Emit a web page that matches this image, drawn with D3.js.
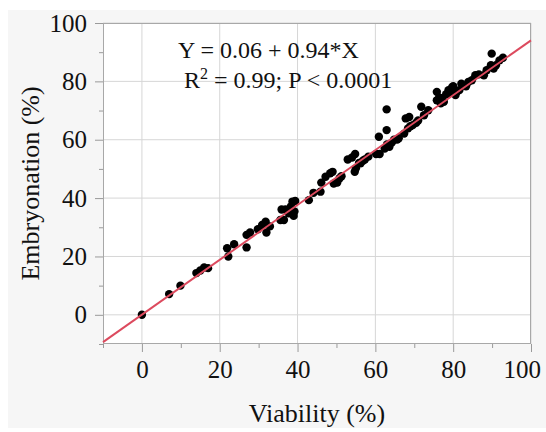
<!DOCTYPE html>
<html>
<head>
<meta charset="utf-8">
<script src="https://cdn.jsdelivr.net/npm/d3@7"></script>
<style>
  body { margin: 0; background: #fff; }
  svg { display: block; font-family: "Liberation Serif", "Times New Roman", serif; }
  .grid line { stroke: #d6d6d6; stroke-width: 1; }
  .axis path { display: none; }
  .axis line { stroke: #9a9a9a; }
  .axis text { fill: #111; font-size: 25px; font-family: "Liberation Serif", serif; }
</style>
</head>
<body>
<svg width="546" height="432"></svg>
<script>
// viability (%)
var viability = [0, 7, 9.9, 14, 15, 16, 17, 21.9, 22.2, 23.7, 26.9, 26.9, 27.8,
    29.8, 30.9, 31.8, 32, 32.9, 35.6, 35.9, 36.5, 36.9, 37.7, 38.3, 38.7, 39, 39.2, 39.4,
    42.9, 44.1, 45.9, 46.1, 47.2, 48.4, 49, 49.3, 50.2, 50.8, 51.3,
    52.9, 54, 54.8, 54.7, 55, 56.2, 57.3, 58.2, 55.8, 56.8,
    60.2, 61.1, 60.9, 62.4, 62.9, 62.9, 63.6, 64.2, 65.6, 66, 63, 64.8,
    67.4, 67.8, 68.7, 68.4, 69.6, 70.5, 71.8, 72.5, 73.6, 69, 71,
    75.8, 75.8, 76.4, 77.6, 78.2, 78.8, 79.7, 80, 80.6, 81.6, 82.1, 83.3, 83.9, 84.8,
    85.7, 86.6, 87.9, 88.6, 89.7, 89.9, 90.4, 91, 91.9, 92.8, 77, 79, 81, 76.8];
// embryonation (%) for the same points
var embryonation = [0, 7.1, 10, 14.3, 15.2, 16.2, 16, 22.8, 20, 24.2, 23.1, 27.4, 28.2,
    29.3, 30.8, 31.9, 28.2, 30.3, 32.5, 36.1, 32.5, 36.1, 34.8, 37.1, 38.8, 33.9, 35.4, 39,
    39.3, 41.8, 42.2, 45.3, 47.3, 48.5, 49, 45, 45.3, 46.8, 47.5,
    53.2, 53.9, 55.1, 49, 50.2, 51.9, 53.2, 54.2, 52, 52.8,
    55.1, 55.1, 61, 57, 63.3, 70.4, 57.6, 59, 60.1, 60.5, 58.4, 60,
    62.1, 67.3, 67.8, 63.9, 65, 65.8, 71.3, 68.4, 70.1, 64.6, 66.6,
    76.4, 73.5, 74.5, 73, 75.6, 77, 77.9, 78.3, 75.3, 77, 79.2, 78.3, 79.8, 80.4,
    82.1, 82.4, 82.1, 83.8, 85.5, 89.5, 84.4, 85.5, 87.2, 88.1, 74.2, 76, 76.5, 72.5];

var fitIntercept = 0.06,
    fitSlope = 0.94;
var equationText = "Y = 0.06 + 0.94*X";
var xTicks = [0, 20, 40, 60, 80, 100],
    yTicks = [0, 20, 40, 60, 80, 100],
    minorTicks = [-10, 10, 30, 50, 70, 90];

var svg = d3.select("svg"),
    width = +svg.attr("width"),
    height = +svg.attr("height");

var plotLeft = 103, plotRight = 531, plotTop = 23, plotBottom = 344;

var x = d3.scaleLinear().domain([-10, 100]).range([plotLeft, plotRight]);
var y = d3.scaleLinear().domain([-10, 100]).range([plotBottom, plotTop]);

// grey page background
svg.append("rect")
    .attr("x", 8).attr("y", 10)
    .attr("width", width - 8).attr("height", 418)
    .attr("fill", "#f6f6f6");

// plot area
svg.append("rect")
    .attr("x", plotLeft).attr("y", plotTop)
    .attr("width", plotRight - plotLeft).attr("height", plotBottom - plotTop)
    .attr("fill", "#fff");

// gridlines
svg.append("g").attr("class", "grid")
    .selectAll("line").data(xTicks).enter().append("line")
    .attr("x1", d => x(d)).attr("x2", d => x(d))
    .attr("y1", plotTop).attr("y2", plotBottom);
svg.append("g").attr("class", "grid")
    .selectAll("line").data(yTicks).enter().append("line")
    .attr("y1", d => y(d)).attr("y2", d => y(d))
    .attr("x1", plotLeft).attr("x2", plotRight);

// axes: major ticks with labels, minor ticks without
var xAxis = svg.append("g").attr("class", "axis")
    .attr("transform", "translate(0," + plotBottom + ")")
    .call(d3.axisBottom(x).tickValues(xTicks).tickSize(8).tickPadding(8).tickFormat(d3.format("d")));
svg.append("g").attr("class", "axis")
    .attr("transform", "translate(0," + plotBottom + ")")
    .call(d3.axisBottom(x).tickValues(minorTicks).tickSize(4).tickFormat(""));

// keep the last label inside the picture
xAxis.selectAll("text").each(function() {
    var b = this.getBoundingClientRect();
    var over = b.right - (width - 5);
    if (over > 0) d3.select(this).attr("dx", -over);
});

svg.append("g").attr("class", "axis")
    .attr("transform", "translate(" + plotLeft + ",0)")
    .call(d3.axisLeft(y).tickValues(yTicks).tickSize(8).tickPadding(8).tickFormat(d3.format("d")));
svg.append("g").attr("class", "axis")
    .attr("transform", "translate(" + plotLeft + ",0)")
    .call(d3.axisLeft(y).tickValues(minorTicks).tickSize(4).tickFormat(""));

// frame
svg.append("rect")
    .attr("x", plotLeft + 0.5).attr("y", plotTop + 0.5)
    .attr("width", plotRight - plotLeft - 1).attr("height", plotBottom - plotTop - 1)
    .attr("fill", "none")
    .attr("stroke", "#a8a8a8");

// points
svg.append("g").selectAll("circle")
    .data(viability.map((v, i) => [v, embryonation[i]]))
    .enter().append("circle")
    .attr("cx", d => x(d[0]))
    .attr("cy", d => y(d[1]))
    .attr("r", 4.2)
    .attr("fill", "#000");

// fitted line
var lineX = x.domain();
svg.append("line")
    .attr("x1", x(lineX[0])).attr("y1", y(fitIntercept + fitSlope * lineX[0]))
    .attr("x2", x(lineX[1])).attr("y2", y(fitIntercept + fitSlope * lineX[1]))
    .attr("stroke", "#dc4a5e")
    .attr("stroke-width", 2);

// equation
svg.append("text")
    .attr("x", 178).attr("y", 58)
    .attr("font-size", 24)
    .attr("fill", "#111")
    .text(equationText);

var r2 = svg.append("text")
    .attr("x", 184).attr("y", 88)
    .attr("font-size", 24)
    .attr("fill", "#111");
r2.append("tspan").text("R");
r2.append("tspan").attr("font-size", 16).attr("dy", -9).text("2");
r2.append("tspan").attr("dy", 9).text(" = 0.99; P < 0.0001");

// axis titles
svg.append("text")
    .attr("x", (plotLeft + plotRight) / 2).attr("y", 422)
    .attr("text-anchor", "middle")
    .attr("font-size", 26)
    .attr("fill", "#111")
    .text("Viability (%)");

svg.append("text")
    .attr("transform", "translate(39," + (plotTop + plotBottom) / 2 + ") rotate(-90)")
    .attr("text-anchor", "middle")
    .attr("font-size", 26)
    .attr("fill", "#111")
    .text("Embryonation (%)");
</script>
</body>
</html>
